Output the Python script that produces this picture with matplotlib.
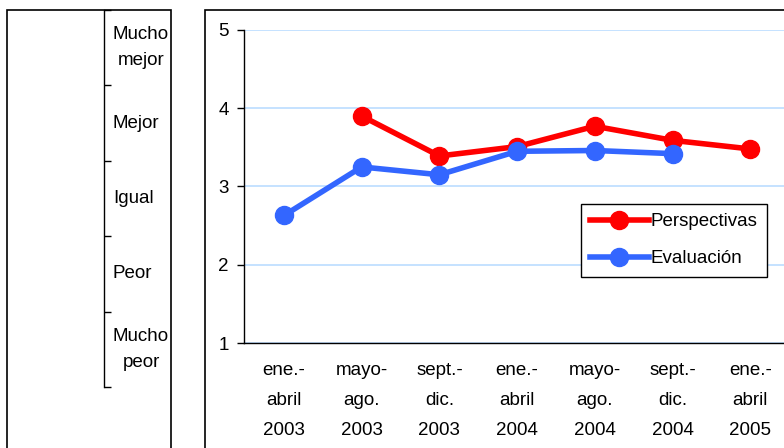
import numpy as np
import matplotlib.pyplot as plt
from matplotlib.patches import Rectangle

plt.rcParams['font.family'] = ['Liberation Sans', 'DejaVu Sans']

periods = ["ene.-\nabril\n2003", "mayo-\nago.\n2003", "sept.-\ndic.\n2003",
           "ene.-\nabril\n2004", "mayo-\nago.\n2004", "sept.-\ndic.\n2004",
           "ene.-\nabril\n2005"]
perspectivas = [np.nan, 3.90, 3.39, 3.51, 3.77, 3.59, 3.48]
evaluacion = [2.63, 3.25, 3.15, 3.45, 3.46, 3.42, np.nan]
scale_labels = ["Mucho\npeor", "Peor", "Igual", "Mejor", "Mucho\nmejor"]

W, H = 784, 448
fs = 13.5
fig = plt.figure(figsize=(W / 100, H / 100), dpi=100)

# panel frames
fig.add_artist(Rectangle((7 / W, -0.1), 164 / W, 1.1 - 10 / H, transform=fig.transFigure,
                         fill=False, edgecolor='black', lw=1.2))
fig.add_artist(Rectangle((205 / W, -0.1), 1.0, 1.1 - 10 / H, transform=fig.transFigure,
                         fill=False, edgecolor='black', lw=1.2))

# left scale
axs = fig.add_axes([104 / W, 1 - 387 / H, 0.001, (387 - 10) / H])
axs.set_ylim(0, 5)
axs.set_xlim(0, 1)
for s in ['top', 'right', 'bottom']:
    axs.spines[s].set_visible(False)
axs.spines['left'].set_linewidth(1.0)
axs.set_yticks(range(6))
axs.set_yticklabels([])
axs.set_xticks([])
axs.tick_params(axis='y', direction='in', length=5, width=1.0)
for i, lab in enumerate(scale_labels):
    axs.annotate(lab, xy=(0, i + 0.5), xycoords=('axes fraction', 'data'),
                 xytext=(9, 0), textcoords='offset pixels', ha='left', va='center',
                 multialignment='center', fontsize=fs, linespacing=1.65)

# main chart
x0, step = 284, 77.7
ax = fig.add_axes([244 / W, 1 - 343 / H, (W - 244) / W, (343 - 30) / H])
x = np.arange(len(periods))
ax.plot(x, perspectivas, color='#FF0000', lw=4, marker='o', ms=13, label='Perspectivas', zorder=3)
ax.plot(x, evaluacion, color='#3366FF', lw=4, marker='o', ms=13, label='Evaluación', zorder=4)
ax.set_xlim((244 - x0) / step, (W - x0) / step)
ax.set_ylim(1, 5)
ax.set_yticks([1, 2, 3, 4, 5])
ax.set_xticks(x)
ax.set_xticklabels(periods, fontsize=fs, linespacing=2.0)
ax.tick_params(axis='x', length=0, pad=14)
ax.tick_params(axis='y', direction='out', length=5, width=1.0, pad=6, labelsize=fs)
ax.yaxis.grid(True, color='#BBDDFF', lw=1.2)
ax.set_axisbelow(True)
for s in ['top', 'right']:
    ax.spines[s].set_visible(False)
ax.spines['left'].set_linewidth(1.0)
ax.spines['bottom'].set_linewidth(1.0)

leg = ax.legend(loc='upper left', bbox_to_anchor=(581 / W, 1 - 204 / H),
                bbox_transform=fig.transFigure, borderaxespad=0, fontsize=fs,
                frameon=True, fancybox=False, handlelength=3.1, handletextpad=0.1,
                borderpad=0.5, labelspacing=1.05, framealpha=1)
leg.get_frame().set_edgecolor('black')
leg.get_frame().set_linewidth(1.0)

fig.savefig('out.png', dpi=100)
